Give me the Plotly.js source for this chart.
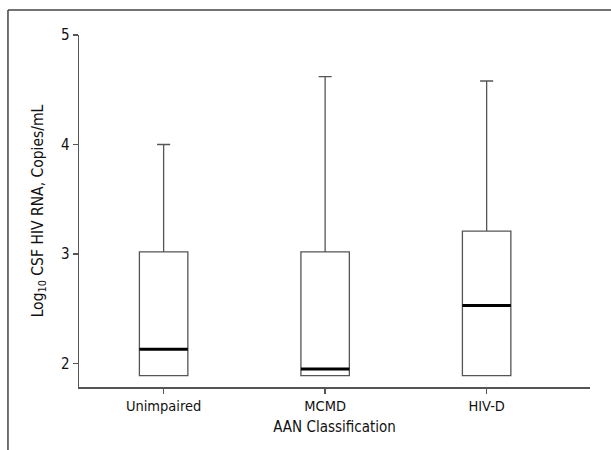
<!DOCTYPE html>
<html><head><meta charset="utf-8">
<script src="https://cdn.plot.ly/plotly-3.0.1.min.js"></script>
<style>body{margin:0;background:#fff}#chart{width:611px;height:450px}</style>
</head><body><div id="chart"></div>
<script>
const categories = ["Unimpaired", "MCMD", "HIV-D"];
const lowerWhisker = [1.89, 1.89, 1.89];
const q1Values = [1.89, 1.89, 1.89];
const medianValues = [2.13, 1.95, 2.53];
const q3Values = [3.02, 3.02, 3.21];
const upperWhisker = [4.0, 4.62, 4.58];
const yTickVals = [2, 3, 4, 5];

const FONT = '"DejaVu Sans Condensed", "Liberation Sans Narrow", Arial, sans-serif';

const boxTrace = {
  type: 'box', x: categories,
  lowerfence: lowerWhisker, q1: q1Values, median: medianValues,
  q3: q3Values, upperfence: upperWhisker,
  fillcolor: 'rgba(255,255,255,0)',
  line: {color: '#555', width: 1.3},
  whiskerwidth: 0.27, width: 0.3,
  boxpoints: false, hoverinfo: 'skip', showlegend: false
};
const medianTrace = {
  type: 'box', x: categories,
  lowerfence: medianValues, q1: medianValues, median: medianValues,
  q3: medianValues, upperfence: medianValues,
  fillcolor: 'rgba(0,0,0,0)',
  line: {color: '#000', width: 3},
  whiskerwidth: 0, width: 0.3,
  boxpoints: false, hoverinfo: 'skip', showlegend: false
};

const frameColor = '#444';
const layout = {
  width: 611, height: 450,
  margin: {l: 79, r: 21, t: 35, b: 63.3, pad: 0},
  paper_bgcolor: '#fff', plot_bgcolor: '#fff',
  boxmode: 'overlay', showlegend: false,
  font: {family: FONT, size: 15, color: '#111'},
  xaxis: {
    type: 'category', range: [-0.524, 2.64],
    showline: true, linecolor: '#555', linewidth: 1.5,
    ticks: 'outside', ticklen: 5, tickwidth: 1.3, tickcolor: '#555',
    showgrid: false, zeroline: false,
    tickfont: {family: FONT, size: 14.5, color: '#111'},
    title: {text: 'AAN Classification', font: {family: FONT, size: 15, color: '#111'}, standoff: 8}
  },
  yaxis: {
    range: [1.786, 5], tickvals: yTickVals, ticktext: yTickVals.map(String),
    showline: true, linecolor: '#555', linewidth: 1.5,
    ticks: 'outside', ticklen: 5, tickwidth: 1.3, tickcolor: '#555',
    showgrid: false, zeroline: false,
    tickfont: {family: FONT, size: 15, color: '#111'},
    title: {text: 'Log<sub>10</sub> CSF HIV RNA, Copies/mL', font: {family: FONT, size: 15.5, color: '#111'}, standoff: 13}
  },
  shapes: [
    {type: 'line', xref: 'paper', yref: 'paper', x0: -0.139, x1: 1.1, y0: 1.0711, y1: 1.0711, line: {color: frameColor, width: 1.5}},
    {type: 'line', xref: 'paper', yref: 'paper', x0: -0.139, x1: -0.139, y0: 1.0711, y1: -0.25, line: {color: frameColor, width: 1.5}}
  ]
};

Plotly.newPlot('chart', [boxTrace, medianTrace], layout, {staticPlot: true, displayModeBar: false});
</script></body></html>
